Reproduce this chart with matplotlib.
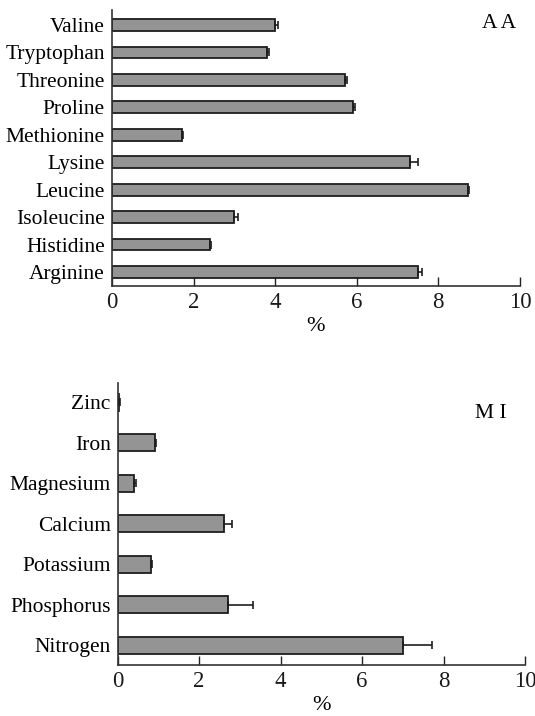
import numpy as np
import matplotlib.pyplot as plt

# amino acids (top panel), listed bottom to top
aa_names = ['Arginine', 'Histidine', 'Isoleucine', 'Leucine', 'Lysine',
            'Methionine', 'Proline', 'Threonine', 'Tryptophan', 'Valine']
aa_vals = [7.5, 2.4, 3.0, 8.72, 7.3, 1.72, 5.9, 5.72, 3.8, 4.0]
aa_err = [0.1, 0.03, 0.08, 0.03, 0.2, 0.03, 0.05, 0.03, 0.05, 0.07]

# minerals (bottom panel), listed bottom to top
mi_names = ['Nitrogen', 'Phosphorus', 'Potassium', 'Calcium',
            'Magnesium', 'Iron', 'Zinc']
mi_vals = [7.0, 2.72, 0.81, 2.62, 0.41, 0.92, 0.04]
mi_err = [0.72, 0.59, 0.04, 0.19, 0.03, 0.02, 0.02]

xticks = [0, 2, 4, 6, 8, 10]

plt.rcParams['font.family'] = ['Liberation Serif', 'DejaVu Serif']
plt.rcParams['font.size'] = 15

fig = plt.figure(figsize=(5.35, 7.16), dpi=100)
ax1 = fig.add_axes([0.2093, 0.6006, 0.7626, 0.3855])
ax2 = fig.add_axes([0.22, 0.0712, 0.7613, 0.3943])


def panel(ax, names, vals, err, label, ylim, h):
    y = np.arange(len(names))
    ax.barh(y, vals, height=h, color='#949494', edgecolor='#1e1e1e',
            linewidth=1.3, zorder=2)
    ax.errorbar(vals, y, xerr=[np.zeros(len(err)), err], fmt='none',
                ecolor='#1e1e1e', elinewidth=1.2, capsize=3, capthick=1.2,
                zorder=3)
    ax.set_yticks(y)
    ax.set_yticklabels(names, fontsize=15.5)
    ax.set_xlim(0, 10)
    ax.set_ylim(*ylim)
    ax.set_xticks(xticks)
    ax.set_xticklabels([str(t) for t in xticks], fontsize=16.5)
    ax.tick_params(axis='y', length=0, pad=5)
    ax.tick_params(axis='x', direction='in', length=6.5, width=1, pad=4,
                   colors='#222222', labelcolor='#1a1a1a')
    for s in ['top', 'right']:
        ax.spines[s].set_visible(False)
    for s in ['left', 'bottom']:
        ax.spines[s].set_color('#333333')
        ax.spines[s].set_linewidth(1.2)
    ax.set_xlabel('%', labelpad=3, fontsize=16)
    return ax.text(0.99, 0.95, label, transform=ax.transAxes, ha='right',
                   va='center', fontsize=15.5)


panel(ax1, aa_names, aa_vals, aa_err, 'A A', (-0.51, 9.55), 0.43)
mi_lbl = panel(ax2, mi_names, mi_vals, mi_err, 'M I', (-0.49, 6.48), 0.42)
mi_lbl.set_position((0.955, 0.89))

fig.savefig('out.png', dpi=100)
